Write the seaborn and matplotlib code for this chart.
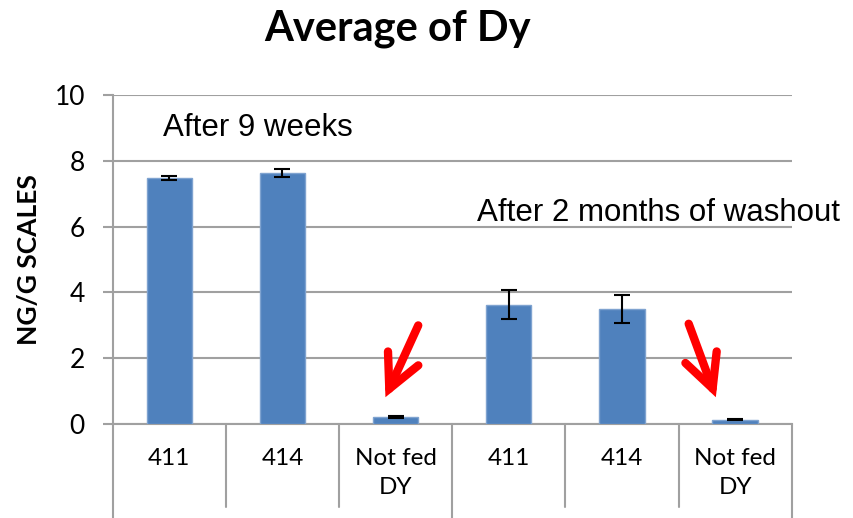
import matplotlib
matplotlib.use('Agg')
import matplotlib.pyplot as plt
import seaborn as sns
import pandas as pd

# data
groups = ['9w', '9w', '9w', 'wash', 'wash', 'wash']
labels = ['411', '414', 'Not fed\nDY', '411', '414', 'Not fed\nDY']
values = [7.46, 7.62, 0.22, 3.63, 3.50, 0.14]
errors = [0.06, 0.12, 0.02, 0.43, 0.42, 0.01]

df = pd.DataFrame({'key': [f'{g}-{i}' for i, g in enumerate(groups)],
                   'value': values})

sns.set_theme(style='white')
plt.rcParams['font.family'] = ['Lato', 'DejaVu Sans']
plt.rcParams['text.color'] = 'black'
plt.rcParams['axes.labelcolor'] = 'black'

fig = plt.figure(figsize=(8.54, 5.18), dpi=100)
ax = fig.add_axes([0.132, 0.181, 0.795, 0.636])

sns.barplot(data=df, x='key', y='value', color='#4F81BD', width=0.4,
            edgecolor='#7FA3D0', linewidth=1, saturation=1, ax=ax, zorder=3)
xs = ax.get_xticks()
ax.errorbar(xs, values, yerr=errors, fmt='none', ecolor='black',
            elinewidth=1.5, capsize=6, capthick=1.5, zorder=4)

ax.set_ylim(0, 10)
ax.set_xlim(-0.5, len(values) - 0.5)
ax.set_yticks([0, 2, 4, 6, 8, 10])
ax.yaxis.grid(True, color='#A0A0A0', linewidth=1.5, zorder=0)
ax.tick_params(axis='y', labelsize=19, length=7, width=1.5, color='#A0A0A0',
               labelcolor='black', direction='out', left=True, pad=13)
ax.set_xticks(xs)
ax.set_xticklabels(labels, fontsize=17.5, linespacing=1.45)
ax.tick_params(axis='x', length=0, pad=17, labelcolor='black')

for side in ['top', 'right']:
    ax.spines[side].set_visible(False)
for side in ['left', 'bottom']:
    ax.spines[side].set_color('#A0A0A0')
    ax.spines[side].set_linewidth(1.5)

# table-like separators under the axis
for i in range(len(values) + 1):
    xpos = i - 0.5
    long_line = i in (0, 3, 6)
    ax.axvline(xpos, ymin=-0.29 if long_line else -0.252, ymax=0,
               color='#A0A0A0', linewidth=1.5, clip_on=False)

ax.set_xlabel('')
ax.set_ylabel('NG/G SCALES', fontsize=19, fontweight='bold', labelpad=10)
fig.text(0.466, 0.945, 'Average of Dy', fontsize=30, fontweight='bold',
         ha='center', va='center')

ax.text(-0.06, 9.0, 'After 9 weeks', fontsize=22.5, va='center',
        family=['Liberation Sans', 'DejaVu Sans'])
ax.text(2.72, 6.4, 'After 2 months of washout', fontsize=22.5, va='center',
        family=['Liberation Sans', 'DejaVu Sans'], clip_on=False)

arrow = dict(arrowstyle='->,head_length=2.0,head_width=1.0', color='red',
             lw=6, shrinkA=0, shrinkB=0, joinstyle='miter')
ax.annotate('', xy=(1.91, 0.82), xytext=(2.2, 3.0), arrowprops=arrow)
ax.annotate('', xy=(4.83, 0.82), xytext=(4.59, 3.05), arrowprops=arrow)

fig.savefig('out.png', dpi=100)
